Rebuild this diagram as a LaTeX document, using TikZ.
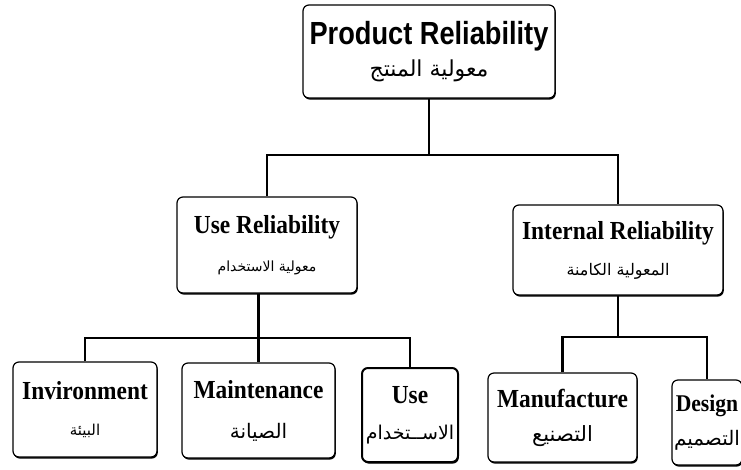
\documentclass[tikz,border=0pt]{standalone}
\usepackage{fontspec}
\usepackage{tikz}
\usetikzlibrary{shadows}
\TeXXeTstate=1
\newfontfamily\headfont[FakeStretch=0.85]{Liberation Sans}
\newfontfamily\boxfont[FakeStretch=0.9]{Liberation Serif}
\newfontfamily\arabicfont[Script=Arabic]{DejaVu Sans}
\tikzset{
	box/.style={draw=black, fill=white, rounded corners=6pt, line width=1.2pt,
		inner sep=0pt, align=center,
		font=\boxfont\bfseries\fontsize{26}{30}\selectfont,
		drop shadow={shadow xshift=0.8pt, shadow yshift=-1.6pt, fill=black, opacity=1}},
	heavybox/.style={box, line width=2pt},
	link/.style={draw=black, line width=1.4pt},
	leaf/.style={draw=black, line width=2.2pt},
}
\newcommand{\arsize}[1]{\arabicfont\mdseries\fontsize{#1}{#1}\selectfont}

\begin{document}
\begin{tikzpicture}[x=1pt, y=-1pt]
	\useasboundingbox (0,0) rectangle (741,469);
	% top level
	\node[box, minimum width=252pt, minimum height=93pt,
		font=\headfont\bfseries\fontsize{32}{36}\selectfont] (prod) at (429,51.5)
		{Product Reliability\\[-4pt]{\arsize{22}\beginR معولية المنتج\endR}};
	% second level
	\node[box, minimum width=180pt, minimum height=96pt] (userel) at (267,245)
		{Use Reliability\\[8pt]{\arsize{14}\beginR معولية الاستخدام\endR}};
	\node[box, minimum width=210pt, minimum height=90pt] (intrel) at (618,250)
		{Internal Reliability\\[6pt]{\arsize{16}\beginR المعولية الكامنة\endR}};
	% leaves
	\node[box, minimum width=144pt, minimum height=95pt] (env) at (85,409.5)
		{Invironment\\[6pt]{\arsize{15}\beginR البيئة\endR}};
	\node[box, minimum width=153pt, minimum height=95pt] (maint) at (258.5,410.5)
		{Maintenance\\[10pt]{\arsize{20}\beginR الصيانة\endR}};
	\node[heavybox, minimum width=96pt, minimum height=94pt] (use) at (410,415)
		{Use\\[6pt]{\arsize{19}\beginR الاســتخدام\endR}};
	\node[box, minimum width=149pt, minimum height=89pt] (manuf) at (562.5,417.5)
		{Manufacture\\[4pt]{\arsize{21}\beginR التصنيع\endR}};
	\node[box, minimum width=70pt, minimum height=85pt,
		font=\boxfont\bfseries\fontsize{24}{28}\selectfont] (design) at (707,422.5)
		{Design\\[6pt]{\arsize{20}\beginR التصميم\endR}};
	% junctions
	\coordinate (j1) at (prod.south |- 0,155);
	\coordinate (j2) at (maint.north |- 0,338);
	\coordinate (j3) at (intrel.south |- 0,337);
	% connectors
	\draw[link] (prod.south) -- (j1);
	\draw[link] (userel.north) |- (j1) -| (intrel.north);
	\draw[leaf] (maint.north |- userel.south) -- (maint.north);
	\draw[leaf] (env.north) |- (j2) -| (use.north);
	\draw[leaf] (intrel.south) -- (j3);
	\draw[leaf] (manuf.north) |- (j3) -| (design.north);
\end{tikzpicture}
\end{document}
